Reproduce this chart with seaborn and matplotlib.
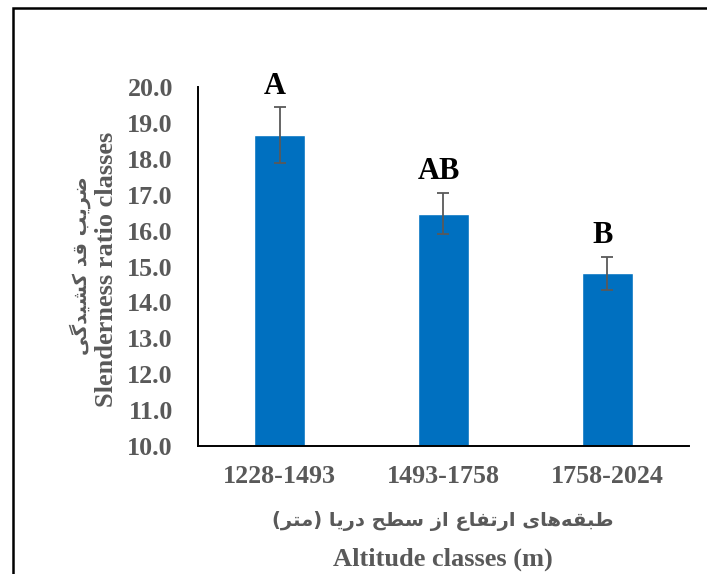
import matplotlib
matplotlib.use("Agg")
import matplotlib.pyplot as plt
import seaborn as sns
import pandas as pd
from matplotlib.patches import Rectangle

# ---- data ----
categories = ["1228-1493", "1493-1758", "1758-2024"]
means = [18.66, 16.48, 14.81]
errors = [0.78, 0.57, 0.46]
letters = ["A", "AB", "B"]
yticks = [10.0, 11.0, 12.0, 13.0, 14.0, 15.0, 16.0, 17.0, 18.0, 19.0, 20.0]
ylabel_en = "Slenderness ratio classes"
ylabel_fa = "ضریب قد کشیدگی"
xlabel_en = "Altitude classes (m)"
xlabel_fa = "طبقه\u200cهای ارتفاع از سطح دریا (متر)"

# ---- minimal Persian shaping (matplotlib has no Arabic shaping) ----
FORMS = {  # isolated, final, initial, medial
    "ا": ("\uFE8D", "\uFE8E", None, None),
    "ب": ("\uFE8F", "\uFE90", "\uFE91", "\uFE92"),
    "ت": ("\uFE95", "\uFE96", "\uFE97", "\uFE98"),
    "ح": ("\uFEA1", "\uFEA2", "\uFEA3", "\uFEA4"),
    "د": ("\uFEA9", "\uFEAA", None, None),
    "ر": ("\uFEAD", "\uFEAE", None, None),
    "ز": ("\uFEAF", "\uFEB0", None, None),
    "س": ("\uFEB1", "\uFEB2", "\uFEB3", "\uFEB4"),
    "ش": ("\uFEB5", "\uFEB6", "\uFEB7", "\uFEB8"),
    "ض": ("\uFEBD", "\uFEBE", "\uFEBF", "\uFEC0"),
    "ط": ("\uFEC1", "\uFEC2", "\uFEC3", "\uFEC4"),
    "ع": ("\uFEC9", "\uFECA", "\uFECB", "\uFECC"),
    "ف": ("\uFED1", "\uFED2", "\uFED3", "\uFED4"),
    "ق": ("\uFED5", "\uFED6", "\uFED7", "\uFED8"),
    "م": ("\uFEE1", "\uFEE2", "\uFEE3", "\uFEE4"),
    "ه": ("\uFEE9", "\uFEEA", "\uFEEB", "\uFEEC"),
    "ک": ("\uFB8E", "\uFB8F", "\uFB90", "\uFB91"),
    "گ": ("\uFB92", "\uFB93", "\uFB94", "\uFB95"),
    "ی": ("\uFBFC", "\uFBFD", "\uFBFE", "\uFBFF"),
}


def shape_fa(s):
    out = []
    n = len(s)
    for i, ch in enumerate(s):
        if ch not in FORMS:
            if ch != "\u200c":
                out.append(ch)
            continue
        f = FORMS[ch]
        dual = f[2] is not None
        prev = s[i - 1] if i > 0 else ""
        nxt = s[i + 1] if i + 1 < n else ""
        pj = prev in FORMS and FORMS[prev][2] is not None
        nj = dual and nxt in FORMS
        if pj and nj:
            g = f[3]
        elif pj:
            g = f[1]
        elif nj:
            g = f[2]
        else:
            g = f[0]
        out.append(g)
    vis = "".join(reversed(out))
    vis = vis.translate(str.maketrans({"(": ")", ")": "("}))
    return vis


sns.set_theme(style="white")
plt.rcParams["font.family"] = ["Liberation Serif", "DejaVu Sans"]

fig = plt.figure(figsize=(7.07, 5.74), dpi=100)
ax = fig.add_axes([0.280, 0.223, 0.6945, 0.625])

df = pd.DataFrame({"cat": categories, "mean": means})
sns.barplot(data=df, x="cat", y="mean", color="#0070C0", saturation=1,
            width=0.31, ax=ax, errorbar=None)
ax.errorbar(range(len(categories)), means, yerr=errors, fmt="none",
            ecolor="#595959", elinewidth=1.3, capsize=4.4, capthick=1.3)

for i, (m, e, lab) in enumerate(zip(means, errors, letters)):
    ax.text(i - 0.03, m + e + 0.38, lab, ha="center", va="baseline",
            fontsize=22, fontweight="bold", color="black",
            family="Liberation Serif")

ax.set_xlim(-0.5, 2.5)
ax.set_ylim(10, 20)
ax.set_yticks(yticks)
ax.set_yticklabels([f"{v:.1f}" for v in yticks])
ax.tick_params(axis="both", length=0, labelsize=18.7, labelcolor="#595959")
ax.tick_params(axis="x", pad=14)
ax.tick_params(axis="y", pad=18)
for t in ax.get_xticklabels() + ax.get_yticklabels():
    t.set_fontweight("bold")

for side in ["top", "right"]:
    ax.spines[side].set_visible(False)
for side in ["left", "bottom"]:
    ax.spines[side].set_visible(True)
    ax.spines[side].set_color("black")
    ax.spines[side].set_linewidth(1.4)
ax.set_xlabel("")
ax.set_ylabel("")
ax.grid(False)

# axis titles
fig.text(0.150, 0.530, ylabel_en, rotation=90, ha="center", va="center",
         fontsize=19, fontweight="bold", color="#595959",
         family="Liberation Serif")
fig.text(0.113, 0.538, shape_fa(ylabel_fa), rotation=90, ha="center",
         va="center", fontsize=14, fontweight="bold", color="#595959",
         family="DejaVu Sans")
fig.text(0.627, 0.092, shape_fa(xlabel_fa), ha="center", va="center",
         fontsize=14, fontweight="bold", color="#595959",
         family="DejaVu Sans")
fig.text(0.627, 0.026, xlabel_en, ha="center", va="center",
         fontsize=19, fontweight="bold", color="#595959",
         family="Liberation Serif")

# outer frame (extends beyond right and bottom edges)
fig.patches.append(Rectangle((12.5 / 707, -0.05), 1.2, 1.05 - 7.5 / 574,
                             transform=fig.transFigure, fill=False,
                             edgecolor="black", linewidth=1.8))

fig.savefig("out.png", dpi=100)
